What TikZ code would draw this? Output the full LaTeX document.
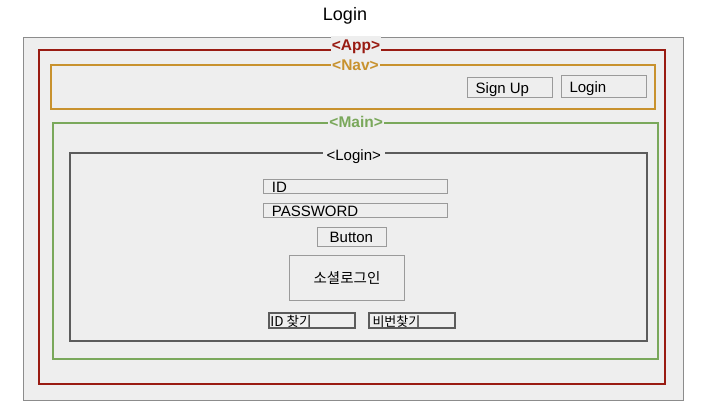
\documentclass[tikz,border=0pt]{standalone}
\usepackage{fontspec}
\setmainfont{Liberation Sans}
\newfontfamily\krfont{Noto Sans CJK KR}
\definecolor{canvas}{HTML}{EEEEEE}
\definecolor{canvasedge}{HTML}{8C8C8C}
\definecolor{appred}{HTML}{991B12}
\definecolor{navgold}{HTML}{C8922E}
\definecolor{maingreen}{HTML}{7AA85B}
\definecolor{loginedge}{HTML}{5C5C5C}
\definecolor{fieldedge}{HTML}{9A9A9A}
\newcommand\fsize[1]{\fontsize{#1}{#1}\selectfont}

\begin{document}
\begin{tikzpicture}[x=1pt, y=-1pt,
  box/.style={draw, rectangle, inner sep=0pt, anchor=north west},
  tag/.style={fill=canvas, anchor=base, inner xsep=1pt, inner ysep=1.5pt,
    text height=12pt, text depth=4pt, font=\fsize{15.5}\bfseries},
  fieldtext/.style={anchor=base west, inner sep=0pt, font=\fsize{15}}]

  \useasboundingbox (0,0) rectangle (710,416);

  % Title and canvas
  \node[font=\fsize{18}] (title) at (345,16) {Login};
  \node[box, draw=canvasedge, fill=canvas, line width=1pt,
    minimum width=660, minimum height=363] (canvas) at (22.5,37) {};

  % App
  \node[box, draw=appred, line width=2pt, minimum width=626, minimum height=334] (app) at (38,49) {};
  \node[tag, text=appred, text height=13pt, text depth=6pt] (apptag) at ([xshift=4pt, yshift=-1.7pt]app.north) {<App>};

  % Nav
  \node[box, draw=navgold, line width=2pt, minimum width=604, minimum height=44] (nav) at (50,64) {};
  \node[tag, text=navgold, text height=11pt, text depth=3pt] (navtag) at ([xshift=2.5pt, yshift=-6.7pt]nav.north) {<Nav>};

  % Nav buttons
  \node[box, draw=fieldedge, minimum width=85, minimum height=20] (signup) at (467,77) {};
  \node[fieldtext] (signuptext) at ([xshift=8.5pt, yshift=3.7pt]signup.south west) {Sign Up};
  \node[box, draw=fieldedge, minimum width=85, minimum height=21.5] (navlogin) at (561,75) {};
  \node[fieldtext] (navlogintext) at ([xshift=8.3pt, yshift=4.5pt]navlogin.south west) {Login};

  % Main
  \node[box, draw=maingreen, line width=2pt, minimum width=605, minimum height=236] (main) at (52,122) {};
  \node[tag, text=maingreen] (maintag) at ([xshift=0.7pt, yshift=-5.7pt]main.north) {<Main>};

  % Login
  \node[box, draw=loginedge, line width=2pt, minimum width=576.5, minimum height=188] (login) at (69,151.5) {};
  \node[tag, font=\fsize{15}, inner xsep=4pt] (logintag) at ([xshift=-4.5pt, yshift=-9.2pt]login.north) {<Login>};

  % Form fields
  \node[box, draw=fieldedge, minimum width=183.4, minimum height=14] (idfield) at (263.3,179.3) {};
  \node[fieldtext] (idtext) at ([xshift=8.4pt, yshift=1pt]idfield.south west) {ID};
  \node[box, draw=fieldedge, minimum width=183.4, minimum height=13.4] (pwfield) at (263.3,203.3) {};
  \node[fieldtext] (pwtext) at ([xshift=8.4pt, yshift=1pt]pwfield.south west) {PASSWORD};

  % Button
  \node[box, draw=fieldedge, minimum width=69, minimum height=18.7] (button) at (316.7,227.3) {};
  \node[fieldtext, anchor=base] (buttontext) at ([yshift=4pt]button.south) {Button};

  % Social login
  \node[box, draw=fieldedge, minimum width=115, minimum height=44.7] (social) at (289.3,255.3) {};
  \node[font=\krfont\fsize{14.5}] (socialtext) at (social.center) {소셜로그인};

  % Find buttons
  \node[box, draw=loginedge, line width=2pt, minimum width=86.3, minimum height=15] (findid) at (267.7,311.7) {};
  \node[fieldtext, font=\krfont\fsize{13.5}] (findidtext) at ([xshift=2.5pt, yshift=2.6pt]findid.south west) {ID 찾기};
  \node[box, draw=loginedge, line width=2pt, minimum width=86, minimum height=15] (findpw) at (368.3,311.7) {};
  \node[fieldtext, font=\krfont\fsize{13}] (findpwtext) at ([xshift=4pt, yshift=2.6pt]findpw.south west) {비번찾기};

\end{tikzpicture}
\end{document}
